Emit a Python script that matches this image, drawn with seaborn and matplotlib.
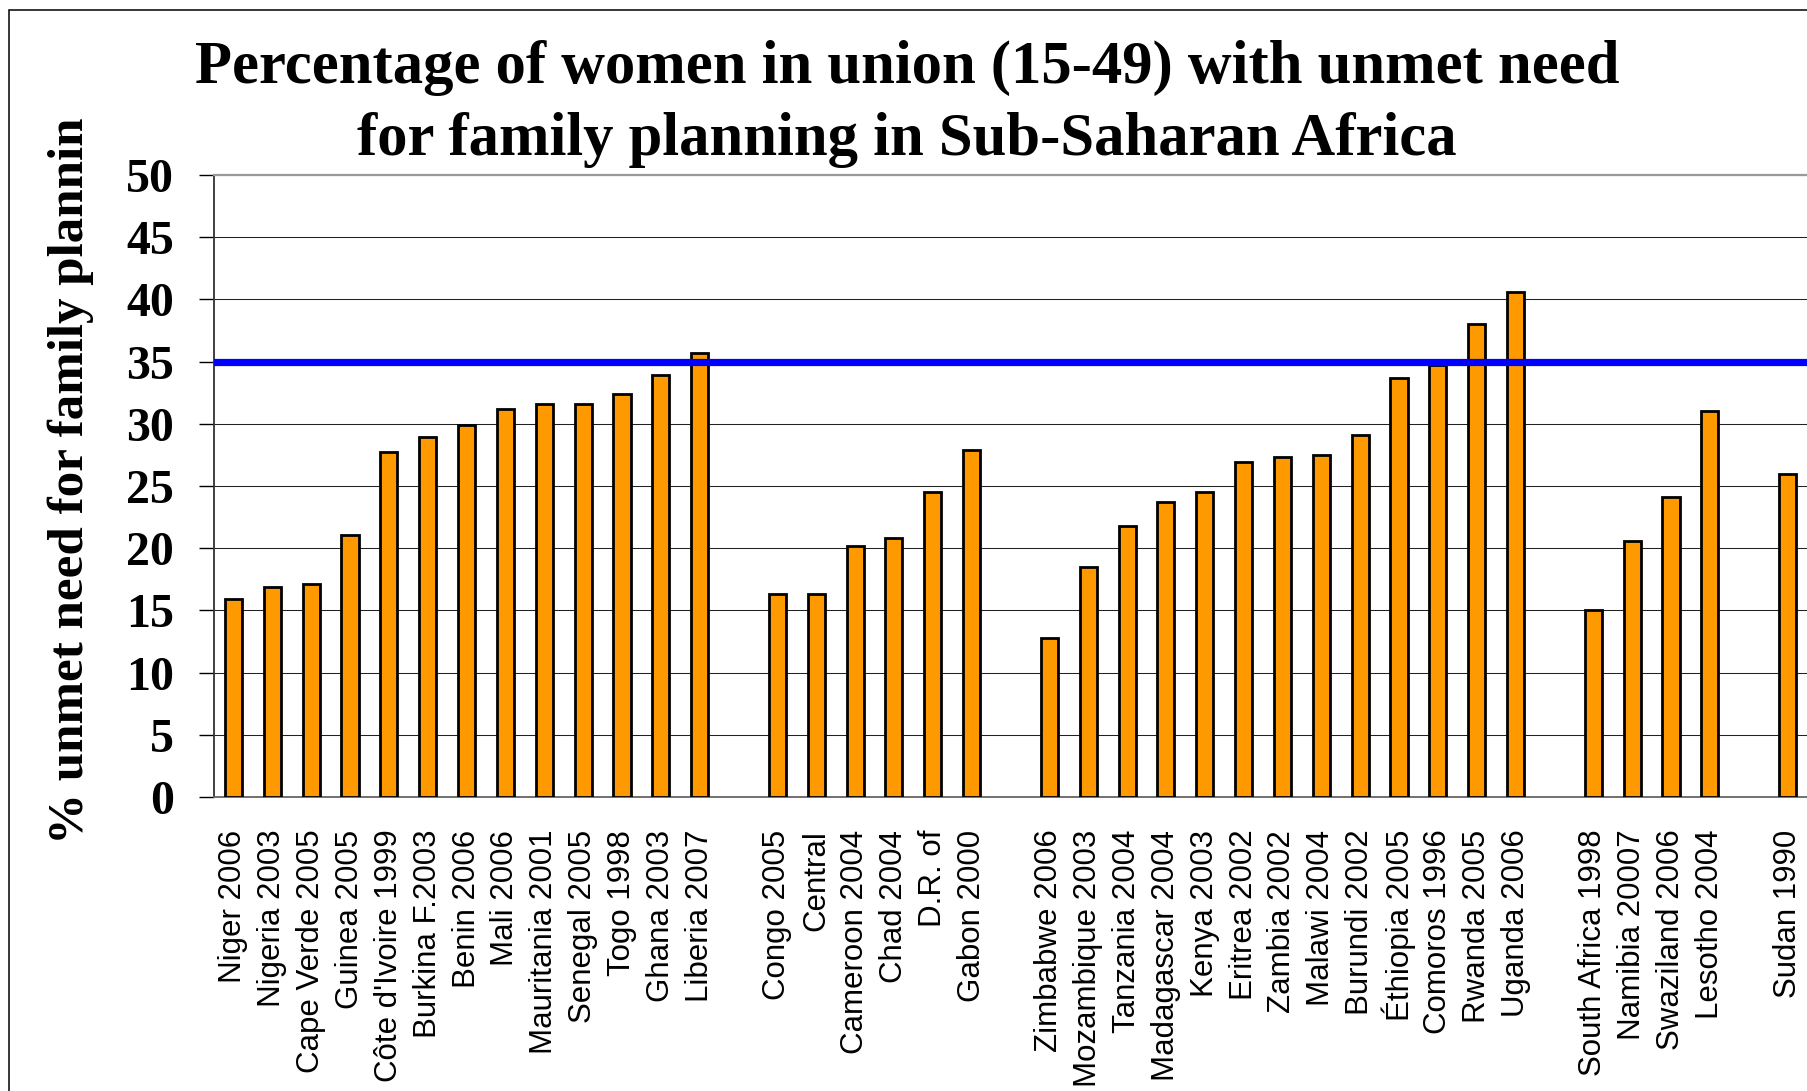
import matplotlib
matplotlib.use('Agg')
import matplotlib.pyplot as plt
import seaborn as sns
import pandas as pd
import numpy as np
from matplotlib import font_manager
from matplotlib.patches import Rectangle

# ---------------- data ----------------
west_labels = ["Niger 2006", "Nigeria 2003", "Cape Verde 2005", "Guinea 2005",
               "Côte d'Ivoire 1999", "Burkina F.2003", "Benin 2006", "Mali 2006",
               "Mauritania 2001", "Senegal 2005", "Togo 1998", "Ghana 2003",
               "Liberia 2007"]
west_values = [15.9, 16.9, 17.1, 21.1, 27.7, 28.9, 29.9, 31.2, 31.6, 31.6, 32.4, 33.9, 35.7]

central_labels = ["Congo 2005", "Central", "Cameroon 2004", "Chad 2004", "D.R. of", "Gabon 2000"]
central_values = [16.3, 16.3, 20.2, 20.8, 24.5, 27.9]

east_labels = ["Zimbabwe 2006", "Mozambique 2003", "Tanzania 2004", "Madagascar 2004",
               "Kenya 2003", "Eritrea 2002", "Zambia 2002", "Malawi 2004",
               "Burundi 2002", "Éthiopia 2005", "Comoros 1996", "Rwanda 2005",
               "Uganda 2006"]
east_values = [12.8, 18.5, 21.8, 23.7, 24.5, 26.9, 27.3, 27.5, 29.1, 33.7, 34.7, 38.0, 40.6]

south_labels = ["South Africa 1998", "Namibia 20007", "Swaziland 2006", "Lesotho 2004"]
south_values = [15.0, 20.6, 24.1, 31.0]

north_labels = ["Sudan 1990"]
north_values = [26.0]

reference_level = 35
y_ticks = list(range(0, 51, 5))

title_line1 = "Percentage of women in union (15-49) with unmet need"
title_line2 = "for family planning in Sub-Saharan Africa"
y_title = "% unmet need for family plannin"

# ---------------- table ----------------
groups = [(west_labels, west_values), (central_labels, central_values),
          (east_labels, east_values), (south_labels, south_values),
          (north_labels, north_values)]
order, display, rows = [], [], []
for gi, (labs, vals) in enumerate(groups):
    if gi > 0:
        order.append(f"_gap{gi}")
        display.append("")
    for l, v in zip(labs, vals):
        order.append(l)
        display.append(l)
        rows.append({"country": l, "value": v})
df = pd.DataFrame(rows)
n = len(order)

# ---------------- style ----------------
sns.set_theme(style='white')
plt.rcParams['text.color'] = 'black'
plt.rcParams['axes.labelcolor'] = 'black'
plt.rcParams['xtick.color'] = 'black'
plt.rcParams['ytick.color'] = 'black'
names = {f.name for f in font_manager.fontManager.ttflist}
if 'Liberation Sans Narrow' in names:
    xfam, xsize = 'Liberation Sans Narrow', 28.3
else:
    xfam, xsize = 'Liberation Sans', 22.5
serif = 'Liberation Serif'

W, H = 1807, 1091
fig = plt.figure(figsize=(W / 100, H / 100), dpi=100)
ax_left, ax_top, ax_bottom = 214, 175, 797
step = 39.07
xmax = -0.5 + (W - ax_left) / step
ax = fig.add_axes([ax_left / W, 1 - ax_bottom / H, (W - ax_left) / W, (ax_bottom - ax_top) / H])

sns.barplot(data=df, x="country", y="value", order=order, color="#FF9900",
            saturation=1, edgecolor="black", linewidth=2.0, width=0.44,
            ax=ax, zorder=3)

ax.set_xlim(-0.5, xmax)
ax.set_ylim(0, 50)
ax.set_xlabel("")
ax.set_ylabel("")

ax.set_yticks(y_ticks)
ax.set_yticklabels([str(t) for t in y_ticks], fontfamily=serif,
                   fontweight='bold', fontsize=34.5, color='black')
ax.yaxis.grid(True, color='#222222', lw=0.75, zorder=0)
ax.xaxis.grid(False)
ax.set_axisbelow(True)

ax.set_xticks(range(n))
ax.set_xticklabels(display, rotation=90, fontfamily=xfam, fontsize=xsize, color='black')
ax.set_xticks(np.arange(-0.5, n + 0.5, 1.0), minor=True)
ax.tick_params(axis='x', which='major', length=0, pad=23.5)
ax.tick_params(axis='x', which='minor', length=8.6, width=1.0, color='#555555', direction='out')
ax.tick_params(axis='y', which='major', length=10.8, width=1.0, color='black',
               direction='out', pad=18, left=True)

ax.axhline(reference_level, color='#0000FF', lw=5.2, zorder=5)

ax.spines['right'].set_visible(False)
ax.spines['top'].set_color('#999999')
ax.spines['top'].set_linewidth(1.6)
ax.spines['left'].set_color('#333333')
ax.spines['left'].set_linewidth(1.3)
ax.spines['bottom'].set_color('#666666')
ax.spines['bottom'].set_linewidth(1.3)

fig.text(907 / W, 1 - 83 / H, title_line1, ha='center', va='baseline', color='black',
         fontsize=43.7, fontweight='bold', family=serif)
fig.text(907 / W, 1 - 155 / H, title_line2, ha='center', va='baseline', color='black',
         fontsize=43.7, fontweight='bold', family=serif)
fig.text(71 / W, 1 - 481 / H, y_title, rotation=90, ha='center', va='center', color='black',
         fontsize=36.7, fontweight='bold', family=serif)

fig.add_artist(Rectangle((9 / W, -0.5), 2, (1 - 10 / H) + 0.5, transform=fig.transFigure,
                         fill=False, ec='black', lw=1.1))

fig.savefig('out.png', dpi=100)
